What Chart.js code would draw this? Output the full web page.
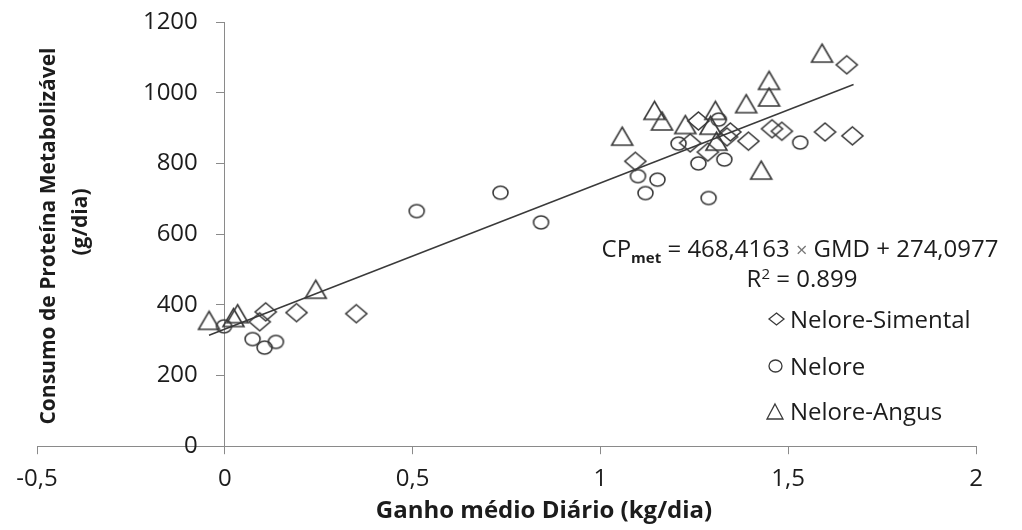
<!DOCTYPE html>
<html>
<head>
<meta charset="utf-8">
<script src="https://cdn.jsdelivr.net/npm/chart.js@4.4.1/dist/chart.umd.min.js"></script>
<style>
  html, body { margin: 0; padding: 0; background: #fff; }
  #wrap { width: 1022px; height: 530px; position: relative; }
</style>
</head>
<body>
<div id="wrap"><canvas id="grafico"></canvas></div>
<script>
// Dados (GMD em kg/dia, CP em g/dia)
const simentalGMD = [1.656, 1.093, 1.261, 1.239, 1.346, 1.337, 1.286, 1.394, 1.457, 1.483, 1.598, 1.671, 0.109, 0.093, 0.191, 0.350];
const simentalCP  = [1079, 806, 920, 858, 889, 875, 832, 863, 898, 891, 889, 878, 380, 352, 378, 375];

const neloreGMD = [1.208, 1.315, 1.261, 1.330, 1.532, 1.100, 1.152, 1.120, 1.288, 0.511, 0.734, 0.842, -0.002, 0.074, 0.106, 0.136];
const neloreCP  = [856, 924, 800, 811, 859, 764, 754, 716, 702, 665, 717, 633, 339, 303, 279, 295];

const angusGMD = [1.590, 1.449, 1.449, 1.388, 1.144, 1.164, 1.058, 1.226, 1.306, 1.293, 1.309, 1.428, -0.042, 0.034, 0.023, 0.242];
const angusCP  = [1112, 1035, 988, 969, 950, 920, 877, 910, 950, 908, 863, 781, 356, 375, 364, 444];

// reta de tendência (extremos)
const retaGMD = [-0.042, 1.674];
const retaCP  = [314, 1023];

const xTicks = [-0.5, 0, 0.5, 1, 1.5, 2];
const xTickLabels = ['-0,5', '0', '0,5', '1', '1,5', '2'];
const yTicks = [0, 200, 400, 600, 800, 1000, 1200];
const yTickLabels = ['0', '200', '400', '600', '800', '1000', '1200'];

const nomesSeries = ['Nelore-Simental', 'Nelore', 'Nelore-Angus'];
const tituloX = 'Ganho médio Diário (kg/dia)';
const tituloY = ['Consumo de Proteína Metabolizável', '(g/dia)'];

const FONTE = "'Open Sans', sans-serif";
const COR_TEXTO = '#1c1c1c';
const COR_EIXO = '#8a8a8a';
const COR_MARCADOR = '#3a3a3a';

/**
 * Cria marcador (losango, circulo, triangulo) num canvas pequeno
 */
function criarMarcador(tipo, w, h, lw) {
  const pad = 2;
  const c = document.createElement('canvas');
  c.width = w + 2 * pad;
  c.height = h + 2 * pad;
  const g = c.getContext('2d');
  const cx = c.width / 2, cy = c.height / 2;
  g.strokeStyle = COR_MARCADOR;
  g.lineWidth = lw;
  g.beginPath();
  if (tipo === 'losango') {
    g.moveTo(cx, cy - h / 2);
    g.lineTo(cx + w / 2, cy);
    g.lineTo(cx, cy + h / 2);
    g.lineTo(cx - w / 2, cy);
    g.closePath();
  } else if (tipo === 'circulo') {
    g.ellipse(cx, cy, w / 2, h / 2, 0, 0, Math.PI * 2);
  } else {
    g.moveTo(cx, cy - h / 2);
    g.lineTo(cx + w / 2, cy + h / 2);
    g.lineTo(cx - w / 2, cy + h / 2);
    g.closePath();
  }
  g.stroke();
  return c;
}

const marcadores = [
  criarMarcador('losango', 21, 18, 1.6),
  criarMarcador('circulo', 15, 13, 1.6),
  criarMarcador('triangulo', 21, 18, 1.6)
];
const marcadoresLegenda = [
  criarMarcador('losango', 15, 12, 1.3),
  criarMarcador('circulo', 13, 12, 1.3),
  criarMarcador('triangulo', 16, 15, 1.3)
];

function pontos(xs, ys) {
  return xs.map((x, i) => ({ x: x, y: ys[i] }));
}

function desenharPartes(ctx, partes, centroX, base) {
  ctx.textAlign = 'left';
  let total = 0;
  partes.forEach(p => { ctx.font = p.f; p.w = ctx.measureText(p.t).width; total += p.w; });
  let x = centroX - total / 2;
  partes.forEach(p => {
    ctx.font = p.f;
    ctx.fillStyle = p.cor || COR_TEXTO;
    ctx.fillText(p.t, x, base + p.dy);
    x += p.w;
  });
}

/**
 * Desenha rótulos do eixo Y (à esquerda do eixo em x = 0), títulos dos eixos,
 * equação e legenda
 */
const textosExtras = {
  id: 'textosExtras',
  afterDraw(chart) {
    const ctx = chart.ctx;
    const escalaX = chart.scales.x;
    const escalaY = chart.scales.y;
    ctx.save();
    ctx.fillStyle = COR_TEXTO;

    // rótulos do eixo Y
    ctx.font = '24px ' + FONTE;
    ctx.textAlign = 'right';
    ctx.textBaseline = 'middle';
    const xEixo = escalaX.getPixelForValue(0);
    yTicks.forEach((v, i) => {
      ctx.fillText(yTickLabels[i], xEixo - 27, escalaY.getPixelForValue(v));
    });

    // título eixo X (deslocado para a direita, como no original)
    ctx.textBaseline = 'alphabetic';
    ctx.textAlign = 'center';
    ctx.font = 'bold 24px ' + FONTE;
    ctx.fillText(tituloX, 544, 518);

    // título eixo Y (duas linhas)
    ctx.font = 'bold 21px ' + FONTE;
    const posY = [[55, 236], [87, 222]];
    tituloY.forEach((linha, i) => {
      ctx.save();
      ctx.translate(posY[i][0], posY[i][1]);
      ctx.rotate(-Math.PI / 2);
      ctx.fillText(linha, 0, 0);
      ctx.restore();
    });

    // equação
    const partes = [
      { t: 'CP', f: '24px ' + FONTE, dy: 0 },
      { t: 'met', f: 'bold 15px ' + FONTE, dy: 6 },
      { t: ' = 468,4163 ', f: '24px ' + FONTE, dy: 0 },
      { t: '×', f: '20px ' + FONTE, dy: 0, cor: '#777' },
      { t: ' GMD + 274,0977', f: '24px ' + FONTE, dy: 0 }
    ];
    desenharPartes(ctx, partes, 800, 257);

    const partesR2 = [
      { t: 'R', f: '24px ' + FONTE, dy: 0 },
      { t: '2', f: '15px ' + FONTE, dy: -8 },
      { t: ' = 0.899', f: '24px ' + FONTE, dy: 0 }
    ];
    desenharPartes(ctx, partesR2, 802, 287);

    // legenda
    const simbolos = [[776, 319], [775, 366], [775, 411]];
    const bases = [328, 375, 420];
    ctx.textAlign = 'left';
    ctx.font = '24px ' + FONTE;
    nomesSeries.forEach((nome, i) => {
      const m = marcadoresLegenda[i];
      ctx.drawImage(m, Math.round(simbolos[i][0] - m.width / 2), Math.round(simbolos[i][1] - m.height / 2));
      ctx.fillStyle = COR_TEXTO;
      ctx.fillText(nome, 790, bases[i]);
    });
    ctx.restore();
  }
};

const ctx = document.getElementById('grafico');

new Chart(ctx, {
  type: 'scatter',
  data: {
    datasets: [
      {
        label: nomesSeries[0],
        data: pontos(simentalGMD, simentalCP),
        pointStyle: marcadores[0],
        pointRadius: 10
      },
      {
        label: nomesSeries[1],
        data: pontos(neloreGMD, neloreCP),
        pointStyle: marcadores[1],
        pointRadius: 8
      },
      {
        label: nomesSeries[2],
        data: pontos(angusGMD, angusCP),
        pointStyle: marcadores[2],
        pointRadius: 10
      },
      {
        label: 'Tendência',
        data: pontos(retaGMD, retaCP),
        showLine: true,
        borderColor: '#3a3a3a',
        borderWidth: 1.5,
        pointRadius: 0
      }
    ]
  },
  options: {
    responsive: true,
    maintainAspectRatio: false,
    animation: false,
    events: [],
    layout: {
      padding: { left: 37, right: 46, top: 22, bottom: 25 }
    },
    plugins: {
      legend: { display: false },
      tooltip: { enabled: false }
    },
    scales: {
      x: {
        type: 'linear',
        position: 'bottom',
        min: -0.5,
        max: 2,
        afterBuildTicks: axis => { axis.ticks = xTicks.map(v => ({ value: v })); },
        ticks: {
          callback: v => xTickLabels[xTicks.indexOf(v)],
          font: { family: FONTE, size: 24 },
          color: COR_TEXTO,
          padding: 11,
          maxRotation: 0
        },
        grid: { drawOnChartArea: false, drawTicks: true, tickLength: 8, color: COR_EIXO },
        border: { display: true, color: COR_EIXO, width: 1 },
        title: { display: false }
      },
      y: {
        type: 'linear',
        position: { x: 0 },
        min: 0,
        max: 1200,
        afterBuildTicks: axis => { axis.ticks = yTicks.map(v => ({ value: v })); },
        ticks: { display: false },
        grid: { drawOnChartArea: false, drawTicks: true, tickLength: 8, color: COR_EIXO },
        border: { display: true, color: COR_EIXO, width: 1 }
      }
    }
  },
  plugins: [textosExtras]
});
</script>
</body>
</html>
